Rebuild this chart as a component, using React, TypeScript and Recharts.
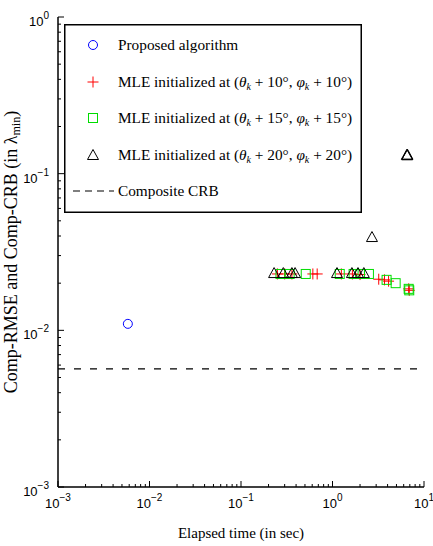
import { ScatterChart, Scatter, XAxis, YAxis, ReferenceLine, Legend } from "recharts";

// elapsed time (sec) vs. Comp-RMSE for each estimator
const proposedTime = [0.0058];
const proposedRmse = [0.011];

const mle10Time = [0.25, 0.3, 0.36, 0.61, 0.68, 1.25, 1.65, 2.0, 3.2, 3.7, 4.1, 6.8, 6.9];
const mle10Rmse = [0.0229, 0.0229, 0.0229, 0.0229, 0.0229, 0.0229, 0.0229, 0.0227, 0.0212, 0.021, 0.0206, 0.0184, 0.018];

const mle15Time = [0.27, 0.34, 0.51, 1.2, 1.7, 2.0, 2.5, 3.9, 4.9, 6.8, 6.9];
const mle15Rmse = [0.0229, 0.0229, 0.0229, 0.0229, 0.0229, 0.0229, 0.0229, 0.021, 0.02, 0.0184, 0.018];

const mle20Time = [0.23, 0.29, 0.36, 0.39, 1.12, 1.63, 1.9, 2.2, 2.7, 6.5, 6.55, 6.6];
const mle20Rmse = [0.0232, 0.0232, 0.0232, 0.0232, 0.0232, 0.0232, 0.0232, 0.0232, 0.0394, 0.132, 0.131, 0.132];

const compositeCrb = 0.00567;

const xDecades = [-3, -2, -1, 0, 1];
const yDecades = [-3, -2, -1, 0];

const pairs = (xs: number[], ys: number[]) => xs.map((x, i) => ({ x, y: ys[i] }));

// log ticks: 1..9 x 10^k inside each decade, plus the last power
const logTicks = (decades: number[]) => {
  const out: number[] = [];
  decades.slice(0, -1).forEach((d) => {
    for (let m = 1; m < 10; m++) out.push(m * Math.pow(10, d));
  });
  out.push(Math.pow(10, decades[decades.length - 1]));
  return out;
};

const xTicks = logTicks(xDecades);
const yTicks = logTicks(yDecades);

const isMajor = (v: number) => Math.abs(Math.log10(v) - Math.round(Math.log10(v))) < 1e-6;
const expText = (v: number) => {
  const e = Math.round(Math.log10(v));
  return e < 0 ? "\u2212" + Math.abs(e) : String(e);
};

const SANS = "'Liberation Sans', Arial, sans-serif";
const SERIF = "'Liberation Serif', 'Times New Roman', serif";

const BottomTick = ({ x, y, payload }: any) => {
  const v = payload.value;
  const major = isMajor(v);
  return (
    <g>
      <line x1={x} x2={x} y1={y} y2={y - (major ? 6 : 3)} stroke="#000" />
      {major && (
        <text x={x} y={y + 21} textAnchor="middle" fontFamily={SANS} fontSize={13} fill="#000">
          <tspan>10</tspan>
          <tspan dy={-7} fontSize={10}>{expText(v)}</tspan>
        </text>
      )}
    </g>
  );
};

const TopTick = ({ x, y, payload }: any) => (
  <line x1={x} x2={x} y1={y} y2={y + (isMajor(payload.value) ? 6 : 3)} stroke="#000" />
);

const LeftTick = ({ x, y, payload }: any) => {
  const v = payload.value;
  const major = isMajor(v);
  return (
    <g>
      <line x1={x} x2={x + (major ? 6 : 3)} y1={y} y2={y} stroke="#000" />
      {major && (
        <text x={x - 9} y={y + 9} textAnchor="end" fontFamily={SANS} fontSize={13} fill="#000">
          <tspan>10</tspan>
          <tspan dy={-7} fontSize={10}>{expText(v)}</tspan>
        </text>
      )}
    </g>
  );
};

const RightTick = ({ x, y, payload }: any) => (
  <line x1={x} x2={x - (isMajor(payload.value) ? 6 : 3)} y1={y} y2={y} stroke="#000" />
);

// marker glyphs
const Circle = ({ cx, cy }: any) => <circle cx={cx} cy={cy} r={4.5} fill="none" stroke="#0000ff" strokeWidth={1} />;
const Plus = ({ cx, cy }: any) => (
  <path d={`M${cx - 5.5},${cy}H${cx + 5.5}M${cx},${cy - 5.5}V${cy + 5.5}`} stroke="#ff0000" strokeWidth={1} fill="none" />
);
const Square = ({ cx, cy }: any) => (
  <rect x={cx - 4.5} y={cy - 4.5} width={9} height={9} fill="none" stroke="#00dd00" strokeWidth={1} />
);
const Triangle = ({ cx, cy }: any) => (
  <path d={`M${cx},${cy - 5.5}L${cx + 5.5},${cy + 4.5}L${cx - 5.5},${cy + 4.5}Z`} fill="none" stroke="#000" strokeWidth={1} />
);

const MleLabel = ({ x, y, deg }: { x: number; y: number; deg: number }) => (
  <text x={x} y={y} fontFamily={SERIF} fontSize={15.3} fill="#000">
    MLE initialized at (<tspan fontStyle="italic">θ</tspan>
    <tspan fontStyle="italic" fontSize={10} dy={3}>k</tspan>
    <tspan dy={-3}> + {deg}°, </tspan>
    <tspan fontStyle="italic">φ</tspan>
    <tspan fontStyle="italic" fontSize={10} dy={3}>k</tspan>
    <tspan dy={-3}> + {deg}°)</tspan>
  </text>
);

const LegendBox = () => {
  const rows = [21, 58, 94, 131, 167];
  const mx = 29;
  const tx = 54;
  return (
    <svg width={298} height={189} style={{ display: "block" }}>
      <rect x={0.75} y={0.75} width={296.5} height={187.5} fill="#fff" stroke="#000" strokeWidth={1.5} />
      <Circle cx={mx} cy={rows[0]} />
      <text x={tx} y={rows[0] + 5} fontFamily={SERIF} fontSize={15.3} fill="#000">Proposed algorithm</text>
      <Plus cx={mx} cy={rows[1]} />
      <MleLabel x={tx} y={rows[1] + 5} deg={10} />
      <Square cx={mx} cy={rows[2]} />
      <MleLabel x={tx} y={rows[2] + 5} deg={15} />
      <Triangle cx={mx} cy={rows[3]} />
      <MleLabel x={tx} y={rows[3] + 5} deg={20} />
      <line x1={9} x2={50} y1={rows[4]} y2={rows[4]} stroke="#000" strokeWidth={1.2} strokeDasharray="7 5" />
      <text x={tx} y={rows[4] + 5} fontFamily={SERIF} fontSize={15.3} fill="#000">Composite CRB</text>
    </svg>
  );
};

const XLabel = ({ viewBox }: any) => (
  <text x={viewBox.x + viewBox.width / 2} y={viewBox.y + 51} textAnchor="middle" fontFamily={SERIF} fontSize={15} fill="#000">
    Elapsed time (in sec)
  </text>
);

const YLabel = ({ viewBox }: any) => {
  const cx = viewBox.x + 17;
  const cy = viewBox.y + viewBox.height / 2;
  return (
    <text x={cx} y={cy} transform={`rotate(-90, ${cx}, ${cy})`} textAnchor="middle" fontFamily={SERIF} fontSize={18} fill="#000">
      Comp-RMSE and Comp-CRB (in λ<tspan fontSize={12} dy={3}>min</tspan>
      <tspan dy={-3}>)</tspan>
    </text>
  );
};

export default function App() {
  return (
    <div style={{ position: "absolute", left: 0, top: 0, background: "#fff" }}>
      <ScatterChart width={433} height={546} margin={{ top: 17, right: 9, bottom: 0, left: 0 }}>
        <XAxis
          dataKey="x"
          type="number"
          scale="log"
          domain={[0.001, 10]}
          allowDataOverflow
          ticks={xTicks}
          interval={0}
          tickSize={0}
          tickMargin={0}
          tick={<BottomTick />}
          height={59}
          axisLine={{ stroke: "#000", strokeWidth: 1.5 }}
          label={<XLabel />}
        />
        <XAxis
          xAxisId="top"
          orientation="top"
          type="number"
          scale="log"
          domain={[0.001, 10]}
          allowDataOverflow
          ticks={xTicks}
          interval={0}
          tickSize={0}
          tickMargin={0}
          tick={<TopTick />}
          height={0}
          axisLine={{ stroke: "#000", strokeWidth: 1.5 }}
        />
        <YAxis
          dataKey="y"
          type="number"
          scale="log"
          domain={[0.001, 1]}
          allowDataOverflow
          ticks={yTicks}
          interval={0}
          tickSize={0}
          tickMargin={0}
          tick={<LeftTick />}
          width={58}
          axisLine={{ stroke: "#000", strokeWidth: 1.5 }}
          label={<YLabel />}
        />
        <YAxis
          yAxisId="right"
          orientation="right"
          type="number"
          scale="log"
          domain={[0.001, 1]}
          allowDataOverflow
          ticks={yTicks}
          interval={0}
          tickSize={0}
          tickMargin={0}
          tick={<RightTick />}
          width={0}
          axisLine={{ stroke: "#000", strokeWidth: 1.5 }}
        />
        <ReferenceLine y={compositeCrb} stroke="#000" strokeWidth={1.2} strokeDasharray="7 9" />
        <Scatter data={pairs(proposedTime, proposedRmse)} shape={<Circle />} isAnimationActive={false} />
        <Scatter data={pairs(mle10Time, mle10Rmse)} shape={<Plus />} isAnimationActive={false} />
        <Scatter data={pairs(mle15Time, mle15Rmse)} shape={<Square />} isAnimationActive={false} />
        <Scatter data={pairs(mle20Time, mle20Rmse)} shape={<Triangle />} isAnimationActive={false} />
        <Legend
          layout="horizontal"
          verticalAlign="middle"
          align="center"
          content={() => <LegendBox />}
          wrapperStyle={{ left: 64, top: 24, width: 298, height: 189 }}
        />
      </ScatterChart>
    </div>
  );
}
